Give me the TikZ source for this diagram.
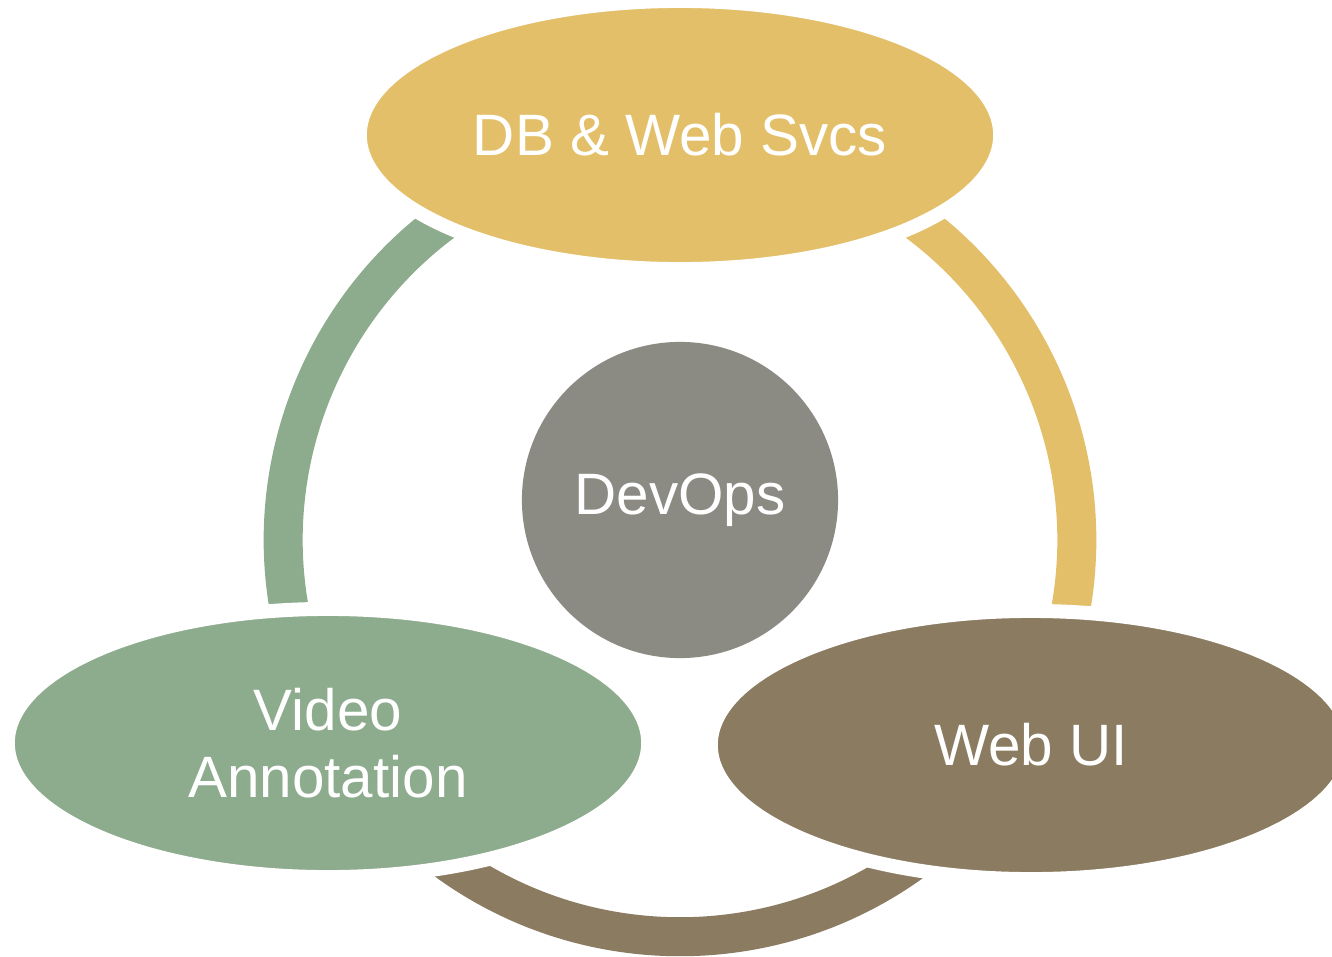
\documentclass[tikz,border=0pt]{standalone}
\usepackage{fontspec}
\setmainfont{Liberation Sans}
\usetikzlibrary{shapes.geometric}

\definecolor{svcgold}{RGB}{228,191,106}
\definecolor{annogreen}{RGB}{141,171,141}
\definecolor{uibrown}{RGB}{138,123,97}
\definecolor{opsgray}{RGB}{139,139,131}

\begin{document}
\begin{tikzpicture}[x=0.01cm, y=0.01cm]
\tikzstyle{part} = [ellipse, draw=white, line width=0.14cm, minimum width=6.40cm, minimum height=2.68cm, text=white, align=center, font=\fontsize{16.6}{19}\selectfont]
\tikzstyle{core} = [circle, minimum size=3.16cm, inner sep=0pt, text=white, font=\fontsize{16.6}{19}\selectfont]
\tikzstyle{link} = [line width=0.39cm]

\useasboundingbox (0,0) rectangle (1332,956);

% ring behind the three parts
\coordinate (hub) at (680,416);

\draw [link, annogreen] ([shift={(110:3.965cm)}]hub) arc [start angle=110, end angle=200, radius=3.965cm];
\draw [link, svcgold]   ([shift={(-20:3.965cm)}]hub) arc [start angle=-20, end angle=70,  radius=3.965cm];
\draw [link, uibrown]   ([shift={(225:3.965cm)}]hub) arc [start angle=225, end angle=315, radius=3.965cm];

\node (svcs)   [part, fill=svcgold]   at (680,821)  {DB \& Web Svcs};
\node (video)  [part, fill=annogreen] at (328,213)  {Video\\Annotation};
\node (webui)  [part, fill=uibrown]   at (1031,211) {Web UI};
\node (devops) [core, fill=opsgray]   at (680,456)  {DevOps};
\end{tikzpicture}
\end{document}
